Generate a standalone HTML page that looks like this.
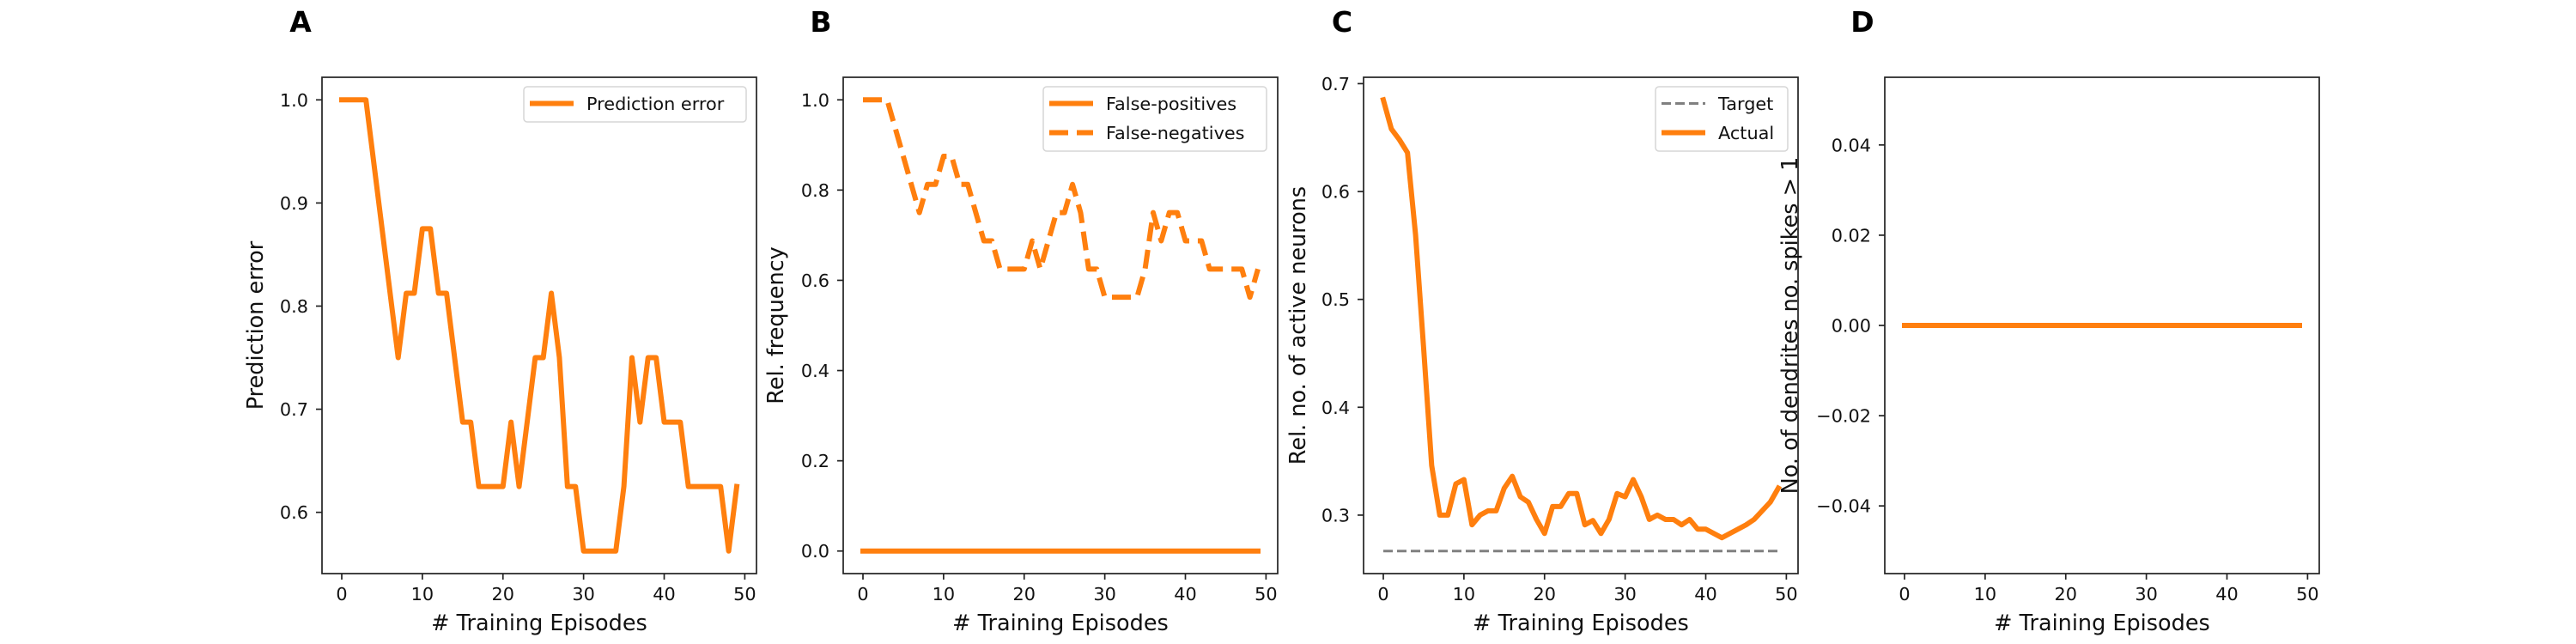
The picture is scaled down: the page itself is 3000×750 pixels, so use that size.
<!DOCTYPE html>
<html><head><meta charset="utf-8"><style>
html,body{margin:0;padding:0;background:#fff;}
svg{display:block;font-family:"DejaVu Sans","Liberation Sans",sans-serif;}
</style></head><body>
<svg id="fig" width="3000" height="750" viewBox="0 0 3000 750" xmlns="http://www.w3.org/2000/svg"></svg>
<script>
const episodes = Array.from({length:50},(_,i)=>i);
const predError = [1,1,1,1,0.9375,0.875,0.8125,0.75,0.8125,0.8125,0.875,0.875,0.8125,0.8125,0.75,0.6875,0.6875,0.625,0.625,0.625,0.625,0.6875,0.625,0.6875,0.75,0.75,0.8125,0.75,0.625,0.625,0.5625,0.5625,0.5625,0.5625,0.5625,0.625,0.75,0.6875,0.75,0.75,0.6875,0.6875,0.6875,0.625,0.625,0.625,0.625,0.625,0.5625,0.625];
const falsePositives = Array(50).fill(0);
const falseNegatives = [1,1,1,1,0.9375,0.875,0.8125,0.75,0.8125,0.8125,0.875,0.875,0.8125,0.8125,0.75,0.6875,0.6875,0.625,0.625,0.625,0.625,0.6875,0.625,0.6875,0.75,0.75,0.8125,0.75,0.625,0.625,0.5625,0.5625,0.5625,0.5625,0.5625,0.625,0.75,0.6875,0.75,0.75,0.6875,0.6875,0.6875,0.625,0.625,0.625,0.625,0.625,0.5625,0.625];
const targetActive = Array(50).fill(0.2667);
const actualActive = [0.685,0.658,0.648,0.636,0.56,0.455,0.346,0.300,0.300,0.329,0.333,0.291,0.300,0.304,0.304,0.325,0.336,0.317,0.312,0.296,0.283,0.308,0.308,0.320,0.320,0.291,0.295,0.283,0.296,0.320,0.317,0.333,0.317,0.296,0.300,0.296,0.296,0.291,0.296,0.287,0.287,0.283,0.279,0.283,0.287,0.291,0.296,0.304,0.312,0.325];
const dendrites = Array(50).fill(0);
const xTicks = [0,10,20,30,40,50];
const yTicksA = [0.6,0.7,0.8,0.9,1.0];
const yTicksB = [0,0.2,0.4,0.6,0.8,1.0];
const yTicksC = [0.3,0.4,0.5,0.6,0.7];
const yTicksD = [-0.04,-0.02,0,0.02,0.04];

const NS="http://www.w3.org/2000/svg";
const svg=document.getElementById('fig');
const ORANGE="#ff7f0e";
function mk(tag,attrs,parent,text){const e=document.createElementNS(NS,tag);for(const k in attrs)e.setAttribute(k,attrs[k]);if(text!==undefined)e.textContent=text;(parent||svg).appendChild(e);return e;}
const TOP=90,BOT=668,W=506;

function panel(o){
  const g=mk('g',{});
  
  
  const L=o.left,R=L+W;
  const xmin=-2.45,xmax=51.45;
  const sx=v=>L+(v-xmin)/(xmax-xmin)*W;
  const sy=v=>BOT-(v-o.ymin)/(o.ymax-o.ymin)*(BOT-TOP);
  o.series.forEach(s=>{
    const p=s.data.map((v,i)=>(i?'L':'M')+sx(episodes[i]).toFixed(2)+' '+sy(v).toFixed(2)).join(' ');
    const path=mk('path',{d:p,fill:'none',stroke:s.color,'stroke-width':s.w,'stroke-linejoin':'round','stroke-linecap':s.dash?'butt':'square'},g);
    if(s.dash)path.setAttribute('stroke-dasharray',s.dash);
    
    
  });
  const fr=mk('rect',{x:L,y:TOP,width:W,height:BOT-TOP,fill:'none',stroke:'#222','stroke-width':1.7},g);
  
  
  xTicks.forEach(t=>{
    const x=sx(t);
    mk('line',{x1:x,x2:x,y1:BOT,y2:BOT+7,stroke:'#222','stroke-width':1.7},g);
    const tx=mk('text',{x:x,y:699,'font-size':20.8,'text-anchor':'middle',fill:'#111'},g,String(t));
    
    
  });
  o.yTicks.forEach(t=>{
    const y=sy(t);
    mk('line',{x1:L-7,x2:L,y1:y,y2:y,stroke:'#222','stroke-width':1.7},g);
    let lab=t.toFixed(o.dec); if(t<0)lab='\u2212'+Math.abs(t).toFixed(o.dec);
    const tx=mk('text',{x:L-16,y:y+7.5,'font-size':20.8,'text-anchor':'end',fill:'#111'},g,lab);
    
    
  });
  const xl=mk('text',{x:L+W/2,y:734,'font-size':25.5,'text-anchor':'middle',fill:'#111'},g,'# Training Episodes');
  
  
  const yl=mk('text',{x:0,y:0,'font-size':25.5,'text-anchor':'middle',fill:'#111',transform:`translate(${o.ylx},${(TOP+BOT)/2}) rotate(-90)`},g,o.ylabel);
  
  
  const lt=mk('text',{x:o.letterX,y:37,'font-size':33,'font-weight':'bold','text-anchor':'middle',fill:'#000'},g,o.letter);
  
  
  if(o.legend){
    const lg=o.legend;
    const lgG=mk('g',{},g);
    
    
    mk('rect',{x:lg.x,y:101,width:lg.w,height:lg.h,rx:4,fill:'#fff','fill-opacity':0.8,stroke:'#d6d6d6','stroke-width':1.5},lgG);
    lg.items.forEach((it,i)=>{
      const y=120.5+i*34;
      const hl=mk('line',{x1:lg.x+7,x2:lg.x+58,y1:y,y2:y,stroke:it.color,'stroke-width':it.w},lgG);
      if(it.dash)hl.setAttribute('stroke-dasharray',it.dash);
      const tx=mk('text',{x:lg.x+73,y:y+7.5,'font-size':20.8,fill:'#111'},lgG,it.label);
      
      
    });
  }
}

panel({letter:'A',letterX:350,left:375,ymin:0.5406,ymax:1.0219,yTicks:yTicksA,dec:1,ylabel:'Prediction error',ylx:306,
  series:[{name:'prediction-error-line',data:predError,color:ORANGE,w:6}],
  legend:{x:610,w:259,h:41,items:[{label:'Prediction error',color:ORANGE,w:6}]}});
panel({letter:'B',letterX:956,left:982,ymin:-0.05,ymax:1.05,yTicks:yTicksB,dec:1,ylabel:'Rel. frequency',ylx:912,
  series:[{name:'false-positives-line',data:falsePositives,color:ORANGE,w:6},{name:'false-negatives-line',data:falseNegatives,color:ORANGE,w:6,dash:'22 10'}],
  legend:{x:1215,w:260,h:75,items:[{label:'False-positives',color:ORANGE,w:6},{label:'False-negatives',color:ORANGE,w:6,dash:'22 10'}]}});
panel({letter:'C',letterX:1563,left:1588,ymin:0.2458,ymax:0.7059,yTicks:yTicksC,dec:1,ylabel:'Rel. no. of active neurons',ylx:1520,
  series:[{name:'target-line',data:targetActive,color:'#808080',w:3,dash:'11 5'},{name:'actual-line',data:actualActive,color:ORANGE,w:6}],
  legend:{x:1928,w:154,h:75,items:[{label:'Target',color:'#808080',w:3,dash:'11 5'},{label:'Actual',color:ORANGE,w:6}]}});
panel({letter:'D',letterX:2169,left:2195,ymin:-0.055,ymax:0.055,yTicks:yTicksD,dec:2,ylabel:'No. of dendrites no. spikes > 1',ylx:2093,
  series:[{name:'dendrites-line',data:dendrites,color:ORANGE,w:6}]});
</script>
</body></html>
